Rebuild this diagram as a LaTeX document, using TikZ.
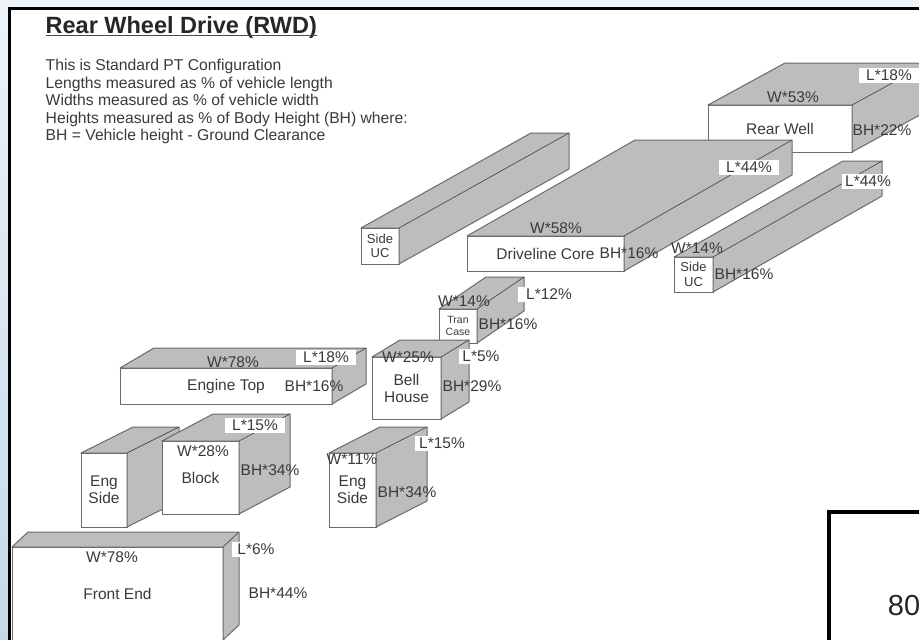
\documentclass[tikz,border=0pt]{standalone}
\usepackage{fontspec}
\setmainfont{Liberation Sans}
\usetikzlibrary{positioning,calc}

\definecolor{edgegray}{HTML}{6A6A6A}
\definecolor{facegray}{HTML}{BDBDBD}
\definecolor{inkgray}{HTML}{3A3A3A}
\definecolor{bgtop}{HTML}{EEF3F8}
\definecolor{bgbottom}{HTML}{C4D8EA}

% [font] name x y width height dx dy text
\newcommand{\partbox}[9][]{
	\node[part_front, anchor=north west, minimum width=#5pt, minimum height=#6pt, #1] (#2) at (#3,#4) {#9};
	\draw[part_side] (#2.north west) -- ++(#7,#8) -- ++(#5,0) -- ++(0,#6) -- (#2.south east) -- (#2.north east) -- cycle;
	\draw[part_edge] (#2.north east) -- ++(#7,#8);
}

\begin{document}
\begin{tikzpicture}[
		x=1pt, y=-1pt,
		part_front/.style={
			rectangle, draw=edgegray, fill=white, line width=1pt, inner sep=0pt, outer sep=0pt,
			text=inkgray, align=center, font=\fontsize{15.5}{17}\selectfont
		},
		part_side/.style={draw=edgegray, fill=facegray, line width=1pt, line join=round},
		part_edge/.style={draw=black!70, line width=0.7pt},
		dim_label/.style={text=inkgray, inner sep=0pt, font=\fontsize{15.5}{17}\selectfont},
		dim_white/.style={dim_label, fill=white, minimum height=15pt, inner xsep=3pt},
		note_text/.style={text=inkgray, inner sep=0pt, anchor=north west, align=left, font=\fontsize{15.7}{17.5}\selectfont}
		]
		\clip (0,0) rectangle (919,640);
		
		% --- SLIDE BACKGROUND ---
		\fill[white] (0,0) rectangle (919,640);
		\fill[bgtop] (0,0) rectangle (919,7);
		\shade[top color=bgtop, bottom color=bgbottom] (0,0) rectangle (8,640);
		\draw[black, line width=3pt] (9.5,641) |- (920,8);
		
		% --- TEXT BLOCK ---
		\node[inner sep=0pt, anchor=north west, text=black!85, font=\fontsize{23.5}{27}\selectfont\bfseries] (title) at (45.5,16) {Rear Wheel Drive (RWD)};
		\draw[black!70, line width=1pt] ([yshift=3pt]title.south west) -- ([yshift=3pt]title.south east);
		\node[note_text] (notes) at (45.5,59) {This is Standard PT Configuration\\Lengths measured as \% of vehicle length\\Widths measured as \% of vehicle width\\Heights measured as \% of Body Height (BH) where:\\BH = Vehicle height - Ground Clearance};
		
		% --- REAR TRACK ---
		\partbox{rear_well}{708}{105}{144}{47}{77}{-42}{Rear Well}
		\partbox{driveline}{467}{236}{157}{35}{168}{-96}{Driveline Core}
		\partbox[font=\fontsize{13}{14.5}\selectfont]{side_uc_r}{674}{257}{39}{35}{169}{-96}{Side\\UC}
		\partbox[font=\fontsize{13}{14.5}\selectfont]{side_uc_l}{361}{228}{38}{36}{170}{-95}{Side\\UC}
		
		% --- MIDDLE TRACK ---
		\partbox[font=\fontsize{10.5}{11.5}\selectfont]{tran_case}{439}{309}{38}{34}{47}{-32}{Tran\\Case}
		\partbox{bell_house}{372}{357}{69}{62}{28}{-17}{Bell\\House}
		\partbox{engine_top}{120}{368}{212}{36}{34}{-20}{Engine Top}
		
		% --- ENGINE AND FRONT TRACK ---
		\partbox{eng_side_l}{81}{453}{46}{74}{52}{-26}{Eng\\Side}
		\partbox{block}{162}{441}{77}{73}{51}{-27}{Block}
		\partbox{eng_side_r}{329}{453}{47}{74}{51}{-26}{Eng\\Side}
		\partbox{front_end}{12}{547}{211}{93}{16}{-15}{Front End}
		
		% --- DIMENSION LABELS ---
		\node[dim_white, minimum width=60pt] (rw_l) at (889,75) {L*18\%};
		\node[dim_label] (rw_w) at (793,97) {W*53\%};
		\node[dim_label] (rw_h) at (882,130) {BH*22\%};
		
		\node[dim_white, minimum width=60pt] (dc_l) at (749,167) {L*44\%};
		\node[dim_label] (dc_w) at (556,228) {W*58\%};
		\node[dim_label] (dc_h) at (629,253) {BH*16\%};
		
		\node[dim_white, minimum width=50pt] (su_l) at (868,181) {L*44\%};
		\node[dim_label] (su_w) at (697,248) {W*14\%};
		\node[dim_label] (su_h) at (744,274) {BH*16\%};
		
		\node[dim_label] (tc_w) at (464,301) {W*14\%};
		\node[dim_white, minimum width=62pt] (tc_l) at (549,294) {L*12\%};
		\node[dim_label] (tc_h) at (508,324) {BH*16\%};
		
		\node[dim_label] (bh_w) at (408,357) {W*25\%};
		\node[dim_white, minimum width=42pt] (bh_l) at (481,356) {L*5\%};
		\node[dim_label] (bh_h) at (472,386) {BH*29\%};
		
		\node[dim_label] (et_w) at (233,362) {W*78\%};
		\node[dim_white, minimum width=60pt] (et_l) at (326,357) {L*18\%};
		\node[dim_label] (et_h) at (314,386) {BH*16\%};
		
		\node[dim_label] (bk_w) at (203,451) {W*28\%};
		\node[dim_white, minimum width=60pt] (bk_l) at (255,425) {L*15\%};
		\node[dim_label] (bk_h) at (270,470) {BH*34\%};
		
		\node[dim_label] (es_w) at (352,459) {W*11\%};
		\node[dim_white, minimum width=55pt] (es_l) at (442,443) {L*15\%};
		\node[dim_label] (es_h) at (407,492) {BH*34\%};
		
		\node[dim_label] (fe_w) at (112,557) {W*78\%};
		\node[dim_white, minimum width=48pt] (fe_l) at (256,549) {L*6\%};
		\node[dim_label] (fe_h) at (278,593) {BH*44\%};
		
		% --- CUT-OFF BOX AT THE CORNER ---
		\node[draw=black, fill=white, line width=3.5pt, anchor=north west, minimum width=130pt, minimum height=150pt] (corner_box) at (827,510) {};
		\node[inner sep=0pt, text=black!85, font=\fontsize{29}{32}\selectfont] (corner_num) at (904,606) {80};
		
	\end{tikzpicture}
\end{document}
